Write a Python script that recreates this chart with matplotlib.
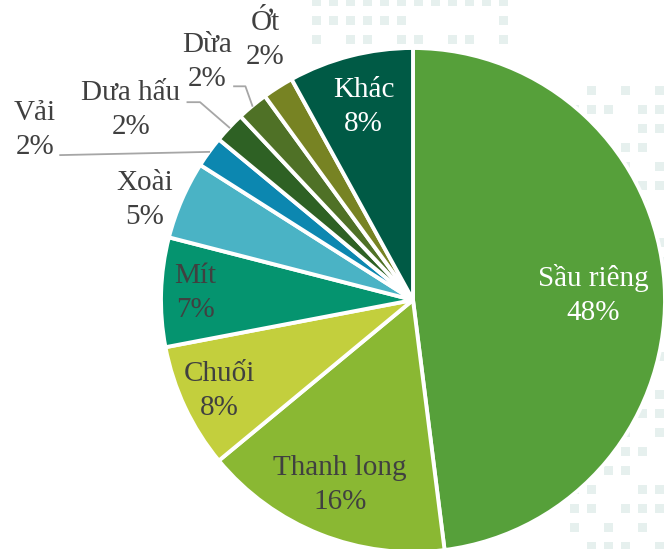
import numpy as np
import matplotlib.pyplot as plt

plt.rcParams['font.family'] = ['Liberation Serif', 'DejaVu Serif']

# data
labels = ['Sầu riêng', 'Thanh long', 'Chuối', 'Mít', 'Xoài',
          'Vải', 'Dưa hấu', 'Dừa', 'Ớt', 'Khác']
shares = [48, 16, 8, 7, 5, 2, 2, 2, 2, 8]
colors = ['#56A03A', '#8AB833', '#C3CF3D', '#05946F', '#4AB3C5',
          '#0C87B0', '#2E6124', '#4F7126', '#778323', '#005A45']
text_colors = ['white', '#404040', '#404040', '#404040', '#404040',
               '#404040', '#404040', '#404040', '#404040', 'white']

W, H = 664, 549
cx, cy, R = 413, 300, 252   # pie centre / radius in pixels

fig = plt.figure(figsize=(W / 100, H / 100), dpi=100)
ax = fig.add_axes([0, 0, 1, 1])

# faint decorative squares in the background
for row in range(3):
    for col in range(12):
        if row == 1 and 6 <= col < 11:
            continue
        if row == 2 and col % 3 == 1:
            continue
        px, py = 312 + col * 17, 6 + row * 19
        ax.add_patch(plt.Rectangle(((px - cx) / R, (cy - py) / R), 9 / R, 9 / R,
                                   color='#E6F0EE', lw=0, zorder=0))
for row in range(25):
    for col in range(6):
        px, py = 570 + col * 17, 95 + row * 19
        if (row + col) % 4 == 0 or (row * 3 + col) % 7 == 2:
            continue
        ax.add_patch(plt.Rectangle(((px - cx) / R, (cy - py) / R), 9 / R, 9 / R,
                                   color='#E6F0EE', lw=0, zorder=0))

wedges, _ = ax.pie(shares, colors=colors, startangle=90, counterclock=False,
                   radius=1, center=(0, 0), frame=True,
                   wedgeprops=dict(edgecolor='white', linewidth=2.8))
ax.set_xlim(-cx / R, (W - cx) / R)
ax.set_ylim(-(H - cy) / R, cy / R)
ax.set_aspect('equal')
ax.axis('off')

# label placement: inside -> radial factor, others -> given position
inside = {'Thanh long': 0.79, 'Chuối': 0.85, 'Mít': 0.865, 'Khác': 0.79}
fixed = {'Sầu riêng': (0.714, 0.02),
         'Xoài': (-1.063, 0.397), 'Vải': (-1.50, 0.675),
         'Dưa hấu': (-1.12, 0.755), 'Dừa': (-0.815, 0.944),
         'Ớt': (-0.587, 1.032)}
leaders = {'Vải': [(-1.40, 0.575)],
           'Dưa hấu': [(-0.895, 0.785), (-0.845, 0.785)],
           'Dừa': [(-0.71, 0.848), (-0.665, 0.848)]}

fs = 21
for w, lab, v, tc in zip(wedges, labels, shares, text_colors):
    ang = np.deg2rad((w.theta1 + w.theta2) / 2)
    ex, ey = np.cos(ang), np.sin(ang)
    txt = f'{lab}\n{v}%'
    if lab in inside:
        k = inside[lab]
        tx, ty = k * ex, k * ey
    else:
        tx, ty = fixed[lab]
    ax.text(tx, ty, txt, ha='center', va='center', fontsize=fs,
            color=tc, linespacing=1.4)
    if lab in leaders:
        pts = leaders[lab] + [(ex, ey)]
        ax.plot([p[0] for p in pts], [p[1] for p in pts], color='#A6A6A6',
                lw=1.3, zorder=1)

fig.savefig('out.png', dpi=100)
